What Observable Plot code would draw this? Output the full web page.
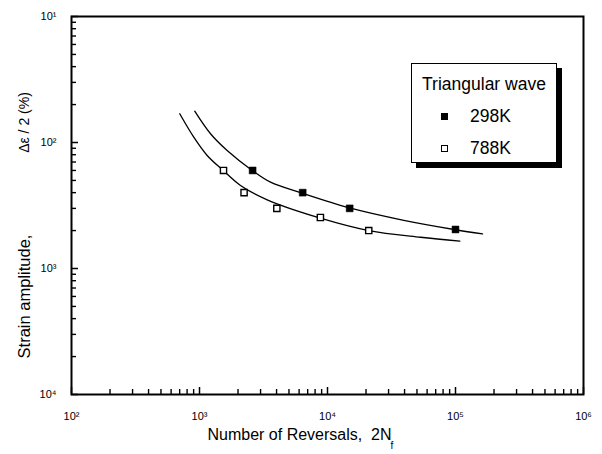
<!DOCTYPE html>
<html>
<head>
<meta charset="utf-8">
<script src="https://cdn.jsdelivr.net/npm/d3@7"></script>
<script src="https://cdn.jsdelivr.net/npm/@observablehq/plot@0.6"></script>
<style>
  html, body { margin: 0; padding: 0; background: #fff; }
  #wrap { position: relative; width: 602px; height: 454px; font-family: "Liberation Sans", Arial, sans-serif; color: #000; }
  #legend { position: absolute; left: 411px; top: 63px; width: 144px; height: 98px; border: 1px solid #000; background: #fff; box-shadow: 5px 5px 0 #000; }
  #legend .t { position: absolute; left: 0; width: 144px; text-align: center; top: 11px; font-size: 17.5px; line-height: 18px; white-space: nowrap; }
  #legend .row { position: absolute; left: 0; font-size: 17.5px; line-height: 18px; }
  #legend .sym { position: absolute; width: 5px; height: 5px; border: 1px solid #000; }
</style>
</head>
<body>
<div id="wrap"></div>
<script>
// ---- data ----
const xTickValues = [1e2, 1e3, 1e4, 1e5, 1e6];
const xTickLabels = ["10²", "10³", "10⁴", "10⁵", "10⁶"];
const yTickValues = [1e-1, 1e-2, 1e-3, 1e-4];
const yTickLabels = ["10¹", "10²", "10³", "10⁴"];

const series = ["298K", "788K"];
// measured points
const x298 = [2600, 6400, 14900, 100000];
const y298 = [0.0060, 0.0040, 0.0030, 0.00204];
const x788 = [1540, 2230, 4020, 8800, 21000];
const y788 = [0.0060, 0.0040, 0.0030, 0.00254, 0.0020];
// fitted curves (traced)
const c298x = [918, 1219, 1644, 2582, 3589, 6340, 15140, 39460, 100000, 162600];
const c298y = [0.01772, 0.01173, 0.00864, 0.00600, 0.00484, 0.00396, 0.00301, 0.00241, 0.00203, 0.00188];
const c788x = [701, 902, 1148, 1531, 2091, 3381, 8810, 21030, 53300, 108100];
const c788y = [0.01690, 0.01102, 0.00789, 0.00600, 0.00456, 0.00351, 0.00251, 0.00200, 0.00177, 0.00165];

const xTitle = "Number of Reversals,\u00a0 2N";
const xTitleSub = "f";
const yTitle1 = "Strain amplitude,";
const yTitle2 = "Δε / 2 (%)";
const legendTitle = "Triangular wave";

// ---- layout ----
const W = 602, H = 454;
const mL = 71, mR = 19, mT = 16, mB = 60;
const innerW = W - mL - mR, innerH = H - mT - mB;

const pts298 = x298.map((x, i) => ({x, y: y298[i]}));
const pts788 = x788.map((x, i) => ({x, y: y788[i]}));
const cur298 = c298x.map((x, i) => ({x, y: c298y[i]}));
const cur788 = c788x.map((x, i) => ({x, y: c788y[i]}));

function minors(majors) {
  const out = [];
  for (let i = 0; i < majors.length - 1; i++) {
    const lo = Math.min(majors[i], majors[i + 1]);
    for (let k = 2; k <= 9; k++) out.push(lo * k);
  }
  return out;
}
const xMinor = minors(xTickValues);
const yMinor = minors(yTickValues);

const xLab = new Map(xTickValues.map((v, i) => [v, xTickLabels[i]]));
const yLab = new Map(yTickValues.map((v, i) => [v, yTickLabels[i]]));

const chart = Plot.plot({
  width: W, height: H,
  marginLeft: mL, marginRight: mR, marginTop: mT, marginBottom: mB,
  x: {type: "log", domain: [1e2, 1e6]},
  y: {type: "log", domain: [1e-4, 1e-1]},
  style: {fontFamily: "'Liberation Sans', Arial, sans-serif", background: "#fff", color: "#000", overflow: "visible"},
  marks: [
    // inward ticks
    Plot.ruleY(yTickValues, {y: d => d, insetRight: innerW - 7, stroke: "#000", strokeWidth: 1.5}),
    Plot.ruleY(yMinor, {y: d => d, insetRight: innerW - 5, stroke: "#000", strokeWidth: 1.4}),
    Plot.ruleX(xTickValues, {x: d => d, insetTop: innerH - 7, stroke: "#000", strokeWidth: 1.5}),
    Plot.ruleX(xMinor, {x: d => d, insetTop: innerH - 5, stroke: "#000", strokeWidth: 1.4}),
    // tick labels
    Plot.axisX({ticks: xTickValues, tickSize: 0, tickPadding: 18, tickFormat: d => xLab.get(d), fontSize: 11, label: null}),
    Plot.axisY({ticks: yTickValues, tickSize: 0, tickPadding: 15, tickFormat: d => yLab.get(d), fontSize: 11, label: null}),
    // curves
    Plot.line(cur298, {x: "x", y: "y", curve: "catmull-rom", stroke: "#000", strokeWidth: 1.3}),
    Plot.line(cur788, {x: "x", y: "y", curve: "catmull-rom", stroke: "#000", strokeWidth: 1.3}),
    // points
    Plot.dot(pts298, {x: "x", y: "y", symbol: "square", r: 3.9, fill: "#000", stroke: "#000", strokeWidth: 0.5}),
    Plot.dot(pts788, {x: "x", y: "y", symbol: "square", r: 3.5, fill: "#fff", stroke: "#000", strokeWidth: 1.4}),
    // frame
    Plot.frame({stroke: "#000", strokeWidth: 2}),
    // axis titles
    Plot.text([xTitle], {frameAnchor: "bottom-left", textAnchor: "start", dx: 136, dy: 45, fontSize: 16, fill: "#000"}),
    Plot.text([xTitleSub], {frameAnchor: "bottom-left", textAnchor: "start", dx: 319, dy: 54, fontSize: 10, fill: "#000"}),
    Plot.text([yTitle1], {frameAnchor: "left", textAnchor: "middle", rotate: -90, dx: -47, dy: 91, fontSize: 16.5, fill: "#000"}),
    Plot.text([yTitle2], {frameAnchor: "left", textAnchor: "middle", rotate: -90, dx: -47, dy: -83, fontSize: 14, fill: "#000"})
  ]
});

const wrap = document.getElementById("wrap");
wrap.appendChild(chart);

// legend (HTML overlay inside the plot area)
const lg = document.createElement("div");
lg.id = "legend";
const t = document.createElement("div");
t.className = "t";
t.textContent = legendTitle;
lg.appendChild(t);
series.forEach((s, i) => {
  const cy = 52 + i * 32;
  const sym = document.createElement("div");
  sym.className = "sym";
  sym.style.left = "29px";
  sym.style.top = (cy - 3.5) + "px";
  sym.style.background = i === 0 ? "#000" : "#fff";
  lg.appendChild(sym);
  const r = document.createElement("div");
  r.className = "row";
  r.style.left = "58px";
  r.style.top = (cy - 9) + "px";
  r.textContent = s;
  lg.appendChild(r);
});
wrap.appendChild(lg);
</script>
</body>
</html>
